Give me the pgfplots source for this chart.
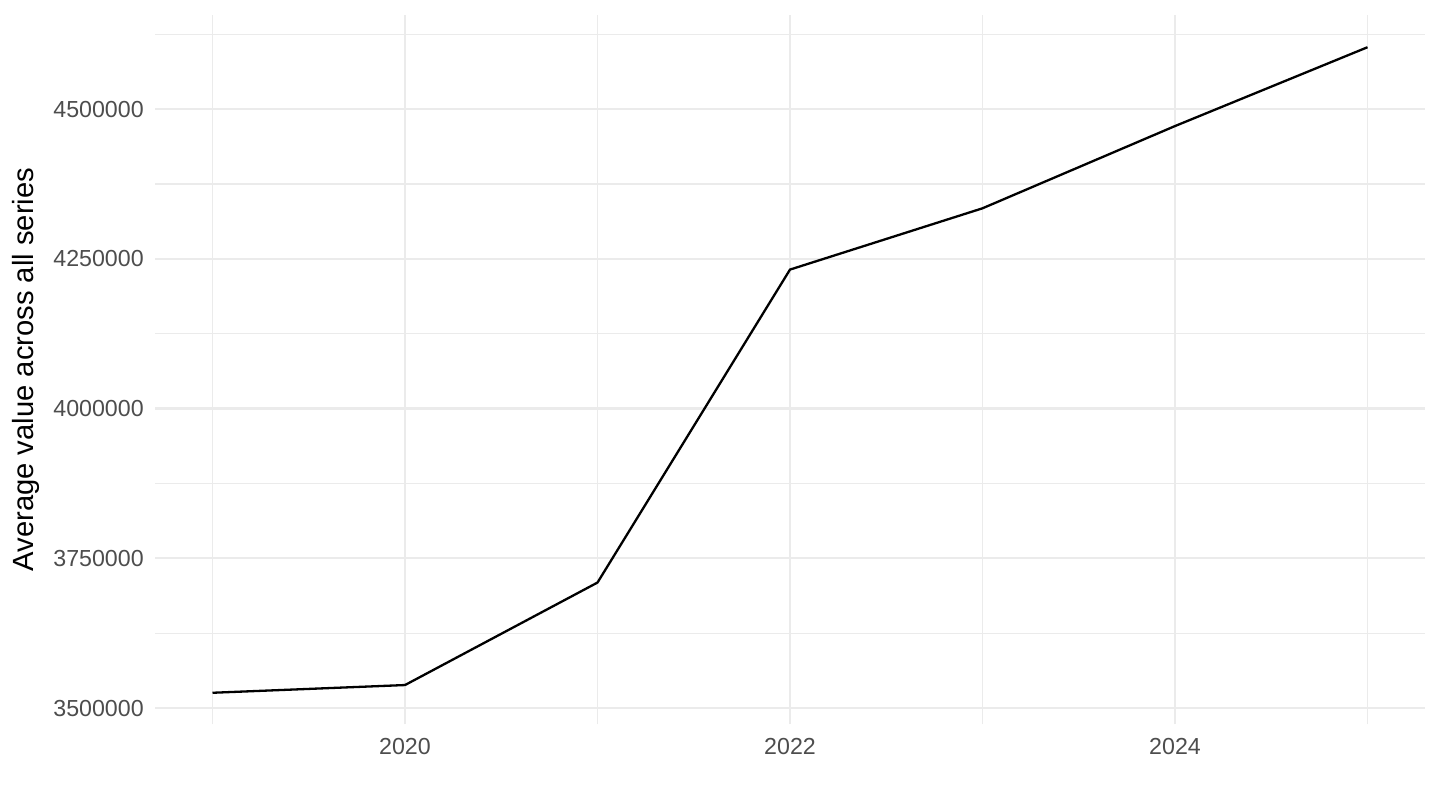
\documentclass[border=0pt]{standalone}
\usepackage{fontspec}
\setmainfont{Liberation Sans}
\usepackage{pgfplots}
\pgfplotsset{compat=1.18}

\definecolor{gridgray}{HTML}{EBEBEB}
\definecolor{ticktext}{HTML}{4D4D4D}

\begin{document}
\begin{tikzpicture}
\useasboundingbox (0,0) rectangle (720pt,405pt);
\begin{axis}[
  at={(77.375pt,42.85pt)}, anchor=south west,
  scale only axis,
  width=635.25pt, height=354.75pt,
  xmin=2018.7, xmax=2025.3,
  ymin=3472860, ymax=4657340,
  xtick={2020,2022,2024},
  xticklabels={2020,2022,2024},
  minor xtick={2019,2021,2023,2025},
  ytick={3500000,3750000,4000000,4250000,4500000},
  yticklabels={3500000,3750000,4000000,4250000,4500000},
  minor ytick={3625000,3875000,4125000,4375000,4625000},
  scaled y ticks=false,
  grid=both,
  major grid style={gridgray, line width=1.2pt},
  minor grid style={gridgray, line width=0.6pt},
  axis line style={draw=none},
  tick style={draw=none},
  major tick length=0pt, minor tick length=0pt,
  tick label style={font=\fontsize{11.6}{14}\selectfont, text=ticktext},
  xticklabel style={yshift=-3.5pt},
  yticklabel style={xshift=-2pt},
  ylabel={Average value across all series},
  ylabel style={font=\fontsize{14.6}{17}\selectfont, text=black},
]
\addplot[black, line width=1.15pt] coordinates {
  (2019,3525500)
  (2020,3538400)
  (2021,3709500)
  (2022,4232000)
  (2023,4334300)
  (2024,4471600)
  (2025,4603200)
};
\end{axis}
\end{tikzpicture}
\end{document}
